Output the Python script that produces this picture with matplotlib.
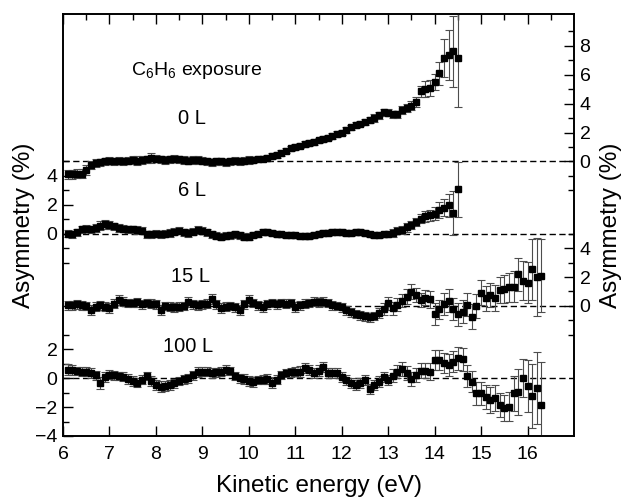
import numpy as np
import matplotlib
matplotlib.use("Agg")
import matplotlib.pyplot as plt

plt.rcParams['font.family'] = ['Liberation Sans', 'DejaVu Sans']
plt.rcParams['mathtext.fontset'] = 'custom'
plt.rcParams['mathtext.rm'] = 'Liberation Sans'
plt.rcParams['mathtext.it'] = 'Liberation Sans'

# Kinetic energy grids (eV)
energy_short = np.round(np.arange(6.1, 14.51, 0.1), 1)   # 0 L and 6 L
energy_long = np.round(np.arange(6.1, 16.31, 0.1), 1)    # 15 L and 100 L

# Spin asymmetry (%) for each C6H6 exposure
asym_0L = [-0.9, -0.9, -0.85, -0.85, -0.6, -0.25, -0.1, -0.05, 0.0, 0.05,
           0.0, 0.05, 0.0, 0.05, 0.1, 0.05, 0.1, 0.15, 0.25, 0.2,
           0.15, 0.1, 0.15, 0.2, 0.15, 0.1, 0.05, 0.1, 0.1, 0.05,
           0.0, -0.05, 0.0, 0.0, -0.05, 0.0, 0.05, 0.0, 0.05, 0.1,
           0.1, 0.15, 0.2, 0.25, 0.35, 0.45, 0.6, 0.75, 0.9, 1.0,
           1.1, 1.2, 1.28, 1.36, 1.45, 1.55, 1.65, 1.75, 1.88, 2.0,
           2.2, 2.35, 2.5, 2.62, 2.75, 2.88, 3.0, 3.2, 3.4, 3.38,
           3.25, 3.25, 3.56, 3.7, 3.86, 4.09, 4.85, 5.0, 5.08, 5.47,
           6.09, 7.15, 7.36, 7.61, 7.19]
err_0L = [0.3, 0.3, 0.3, 0.3, 0.35, 0.3, 0.3, 0.25, 0.25, 0.25,
          0.25, 0.25, 0.25, 0.25, 0.25, 0.3, 0.25, 0.25, 0.35, 0.25,
          0.25, 0.25, 0.25, 0.25, 0.25, 0.25, 0.25, 0.25, 0.25, 0.25,
          0.25, 0.25, 0.25, 0.25, 0.25, 0.25, 0.25, 0.25, 0.25, 0.25,
          0.2, 0.2, 0.2, 0.2, 0.2, 0.2, 0.2, 0.2, 0.2, 0.2,
          0.2, 0.2, 0.2, 0.2, 0.2, 0.2, 0.2, 0.2, 0.2, 0.2,
          0.2, 0.2, 0.2, 0.2, 0.2, 0.2, 0.25, 0.25, 0.25, 0.25,
          0.25, 0.25, 0.3, 0.3, 0.3, 0.35, 0.4, 0.55, 0.55, 0.55,
          0.8, 1.3, 1.75, 2.45, 3.4]

asym_6L = [0.0, -0.05, 0.1, 0.3, 0.35, 0.3, 0.4, 0.55, 0.65, 0.6,
           0.5, 0.4, 0.35, 0.3, 0.3, 0.25, 0.2, -0.05, -0.05, 0.0,
           -0.05, 0.0, 0.05, 0.15, 0.2, 0.1, 0.05, 0.15, 0.25, 0.2,
           0.1, -0.05, -0.15, -0.2, -0.15, -0.1, -0.05, -0.1, -0.2, -0.2,
           -0.1, 0.0, 0.1, 0.12, 0.05, -0.05, -0.05, -0.1, -0.1, -0.12,
           -0.15, -0.15, -0.15, -0.1, 0.0, 0.05, 0.05, 0.1, 0.12, 0.1,
           0.05, 0.05, 0.1, 0.1, 0.05, -0.05, -0.1, -0.1, -0.05, -0.05,
           0.05, 0.2, 0.25, 0.45, 0.6, 0.8, 1.03, 1.19, 1.26, 1.38,
           1.66, 1.79, 1.95, 1.42, 3.06]
err_6L = [0.25, 0.25, 0.25, 0.25, 0.25, 0.25, 0.25, 0.3, 0.3, 0.25,
          0.25, 0.25, 0.25, 0.25, 0.25, 0.25, 0.25, 0.25, 0.25, 0.25,
          0.25, 0.25, 0.25, 0.25, 0.25, 0.25, 0.25, 0.25, 0.25, 0.25,
          0.25, 0.25, 0.25, 0.25, 0.25, 0.25, 0.25, 0.25, 0.25, 0.25,
          0.2, 0.2, 0.2, 0.2, 0.2, 0.2, 0.2, 0.2, 0.2, 0.2,
          0.2, 0.2, 0.2, 0.2, 0.2, 0.2, 0.2, 0.2, 0.2, 0.2,
          0.2, 0.2, 0.2, 0.2, 0.2, 0.2, 0.2, 0.2, 0.2, 0.2,
          0.25, 0.25, 0.25, 0.3, 0.3, 0.3, 0.3, 0.35, 0.4, 0.45,
          0.55, 0.6, 0.8, 1.5, 1.9]

asym_15L = [0.05, 0.05, 0.1, 0.05, 0.0, -0.28, -0.05, 0.05, -0.05, -0.16,
            0.15, 0.4, 0.3, 0.2, 0.2, 0.25, 0.1, 0.2, 0.15, 0.1,
            -0.28, 0.0, -0.05, -0.1, -0.05, 0.0, 0.3, 0.1, 0.05, 0.1,
            0.15, 0.46, 0.1, -0.15, -0.05, 0.0, -0.1, -0.28, 0.1, 0.41,
            0.2, 0.05, -0.1, 0.1, 0.2, 0.1, 0.2, 0.15, 0.2, -0.1,
            0.05, 0.15, 0.2, 0.3, 0.25, 0.3, 0.2, 0.05, 0.0, -0.1,
            -0.3, -0.45, -0.55, -0.65, -0.72, -0.78, -0.7, -0.46, -0.23, 0.19,
            -0.16, 0.07, 0.37, 0.65, 0.99, 0.76, 0.41, 0.58, 0.46, -0.55,
            -0.23, 0.14, 0.37, -0.23, -0.58, -0.39, 0.07, -0.74, 0.0, 0.92,
            0.53, 0.76, 0.53, 1.11, 1.16, 1.29, 1.34, 2.19, 1.75, 1.61,
            2.54, 2.03, 2.1]
err_15L = [0.3, 0.3, 0.3, 0.3, 0.3, 0.35, 0.3, 0.3, 0.3, 0.35,
           0.3, 0.35, 0.3, 0.3, 0.3, 0.3, 0.3, 0.3, 0.3, 0.3,
           0.35, 0.3, 0.3, 0.3, 0.3, 0.3, 0.35, 0.3, 0.3, 0.3,
           0.3, 0.35, 0.3, 0.35, 0.3, 0.3, 0.3, 0.35, 0.3, 0.35,
           0.3, 0.3, 0.35, 0.3, 0.3, 0.3, 0.3, 0.3, 0.3, 0.35,
           0.3, 0.3, 0.3, 0.3, 0.3, 0.3, 0.3, 0.3, 0.3, 0.3,
           0.3, 0.3, 0.3, 0.3, 0.3, 0.3, 0.3, 0.35, 0.4, 0.45,
           0.45, 0.45, 0.45, 0.5, 0.5, 0.5, 0.5, 0.55, 0.6, 0.75,
           0.65, 0.75, 0.8, 0.75, 0.8, 0.8, 0.8, 0.85, 0.85, 0.85,
           0.85, 0.85, 0.9, 0.9, 0.95, 1.0, 1.05, 1.15, 1.35, 1.4,
           2.1, 2.7, 2.5]

asym_100L = [0.6, 0.55, 0.5, 0.45, 0.45, 0.35, 0.2, -0.35, 0.1, 0.25,
             0.2, 0.15, 0.1, -0.05, -0.2, -0.3, -0.1, 0.15, -0.2, -0.45,
             -0.58, -0.53, -0.5, -0.35, -0.2, -0.07, 0.0, 0.2, 0.4, 0.45,
             0.45, 0.35, 0.4, 0.46, 0.55, 0.5, 0.16, 0.0, -0.07, -0.2,
             -0.26, -0.12, -0.1, -0.07, -0.3, -0.1, 0.23, 0.35, 0.4, 0.45,
             0.46, 0.69, 0.57, 0.35, 0.53, 0.8, 0.35, 0.35, 0.35, 0.11,
             -0.12, -0.35, -0.46, -0.35, -0.12, -0.76, -0.46, -0.23, 0.11, -0.12,
             0.16, 0.46, 0.62, 0.35, -0.07, 0.23, 0.53, 0.53, 0.46, 1.27,
             1.27, 1.04, 0.92, 1.15, 1.38, 1.31, 0.16, -0.23, -1.04, -1.04,
             -1.31, -1.5, -1.34, -1.85, -2.03, -1.96, -1.04, -0.93, 0.0, -0.53,
             -1.22, -0.69, -1.85]
err_100L = [0.35, 0.35, 0.3, 0.3, 0.3, 0.35, 0.3, 0.4, 0.35, 0.3,
            0.3, 0.3, 0.3, 0.35, 0.35, 0.3, 0.3, 0.3, 0.35, 0.35,
            0.4, 0.35, 0.35, 0.3, 0.3, 0.3, 0.3, 0.3, 0.35, 0.3,
            0.3, 0.35, 0.3, 0.3, 0.35, 0.3, 0.3, 0.3, 0.35, 0.35,
            0.35, 0.3, 0.3, 0.35, 0.35, 0.3, 0.3, 0.3, 0.3, 0.3,
            0.35, 0.35, 0.35, 0.35, 0.35, 0.35, 0.35, 0.35, 0.35, 0.35,
            0.35, 0.35, 0.35, 0.35, 0.35, 0.35, 0.35, 0.35, 0.35, 0.35,
            0.45, 0.45, 0.5, 0.5, 0.5, 0.5, 0.55, 0.55, 0.6, 0.7,
            0.7, 0.7, 0.75, 0.75, 0.8, 0.8, 0.75, 0.75, 0.8, 0.8,
            0.85, 0.9, 0.9, 0.85, 0.9, 1.0, 1.2, 1.6, 1.3, 1.8,
            2.2, 2.5, 3.0]

labels = ['0 L', '6 L', '15 L', '100 L']
offsets = [15, 10, 5, 0]

series = [(energy_short, asym_0L, err_0L),
          (energy_short, asym_6L, err_6L),
          (energy_long, asym_15L, err_15L),
          (energy_long, asym_100L, err_100L)]

W, H = 626, 503
fig = plt.figure(figsize=(W / 100, H / 100), dpi=100)
left, right, top, bottom = 63, 574, 14, 436
ax = fig.add_axes([left / W, 1 - bottom / H, (right - left) / W, (bottom - top) / H])

ax.set_xlim(6, 17)
ax.set_ylim(-4, 25.2)

# dashed zero lines for each trace
for off in offsets:
    ax.axhline(off, color='black', lw=1.0, ls=(0, (4.5, 2.5)), zorder=1)

for (x, y, e), off in zip(series, offsets):
    ax.errorbar(x, np.asarray(y) + off, yerr=e, fmt='s', ms=3.8,
                mfc='black', mec='black', ecolor='0.3', elinewidth=0.8,
                capsize=3.0, capthick=0.8, zorder=3)

# trace labels
ax.text(8.88, 21.3, r'C$_\mathregular{6}$H$_\mathregular{6}$ exposure',
        ha='center', va='center', fontsize=14)
label_y = [18.0, 12.97, 7.03, 2.17]
label_x = [8.78, 8.78, 8.74, 8.69]
for lab, lx, ly in zip(labels, label_x, label_y):
    ax.text(lx, ly, lab, ha='center', va='center', fontsize=14.5)

# x axis
xticks = list(range(6, 17))
ax.set_xticks(xticks)
ax.set_xticklabels([str(t) for t in xticks])
ax.set_xticks(np.arange(6.5, 17, 1.0), minor=True)
ax.tick_params(axis='x', which='major', direction='in', length=7, width=1,
               top=True, bottom=True, labelsize=14, pad=7)
ax.tick_params(axis='x', which='minor', direction='in', length=4, width=1,
               top=True, bottom=False)
ax.set_xlabel('Kinetic energy (eV)', fontsize=17.5, labelpad=9)

minus = '\u2212'

def fmt(v):
    return (minus + str(-v)) if v < 0 else str(v)

# left axis: 6 L segment (offset 10) and 100 L segment (offset 0)
left_major_local = [(4, 10), (2, 10), (0, 10), (2, 0), (0, 0), (-2, 0), (-4, 0)]
left_minor = [15, 13, 11, 9, 8, 3, 1, -1, -3]
ax.set_yticks([v + o for v, o in left_major_local])
ax.set_yticklabels([fmt(v) for v, o in left_major_local])
ax.set_yticks(left_minor, minor=True)
ax.tick_params(axis='y', which='major', direction='in', length=7, width=1,
               labelsize=14, pad=4, right=False)
ax.tick_params(axis='y', which='minor', direction='in', length=4, width=1,
               right=False)
ax.set_ylabel('Asymmetry (%)', fontsize=17.5, labelpad=0)

# right axis: 0 L segment (offset 15) and 15 L segment (offset 5)
ax2 = ax.twinx()
ax2.set_ylim(ax.get_ylim())
right_major_local = [(8, 15), (6, 15), (4, 15), (2, 15), (0, 15),
                     (4, 5), (2, 5), (0, 5)]
right_minor = [24, 22, 20, 18, 16, 14, 13, 10, 8, 6, 4, 3]
ax2.set_yticks([v + o for v, o in right_major_local])
ax2.set_yticklabels([fmt(v) for v, o in right_major_local])
ax2.set_yticks(right_minor, minor=True)
ax2.tick_params(axis='y', which='major', direction='in', length=7, width=1,
                labelsize=14, pad=4)
ax2.tick_params(axis='y', which='minor', direction='in', length=4, width=1)
ax2.set_ylabel('Asymmetry (%)', fontsize=17.5, labelpad=7)

for a in (ax, ax2):
    for s in a.spines.values():
        s.set_linewidth(1.2)

fig.savefig('out.png', dpi=100)
